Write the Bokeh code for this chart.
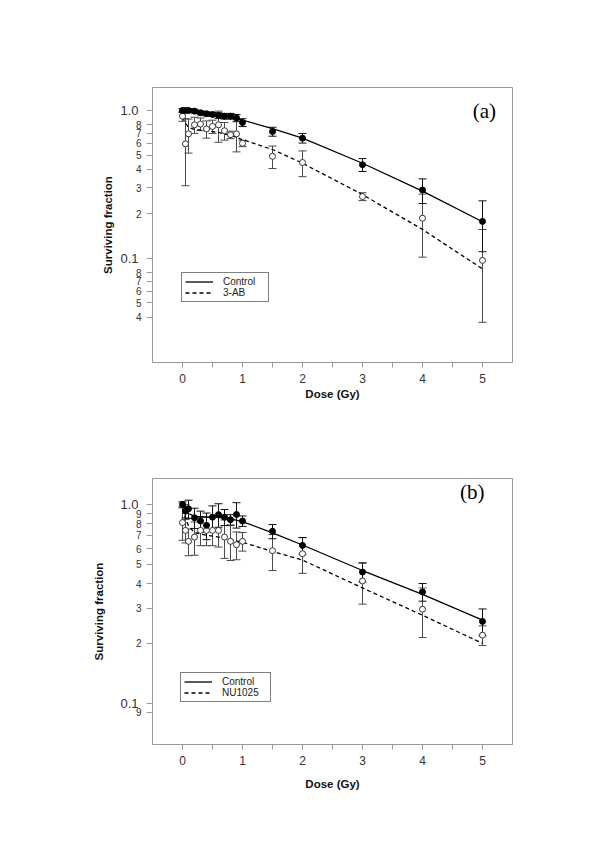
from bokeh.plotting import figure
from bokeh.models import (Range1d, FixedTicker, Label, Legend, LegendItem, Whisker, LogAxis,
                          ColumnDataSource, CustomJSTickFormatter, TeeHead)
from bokeh.layouts import column
from bokeh.embed import file_html
from bokeh.resources import INLINE

# ---------------- data ----------------
doses = [0, 0.05, 0.1, 0.2, 0.3, 0.4, 0.5, 0.6, 0.7, 0.8, 0.9, 1.0, 1.5, 2, 3, 4, 5]

# panel (a)
control_a = [1.0, 1.0, 1.0, 0.99, 0.965, 0.95, 0.94, 0.925, 0.915, 0.915, 0.89, 0.83, 0.72, 0.65, 0.43, 0.29, 0.178]
control_a_err = [0.03, 0.03, 0.03, 0.03, 0.03, 0.03, 0.03, 0.04, 0.04, 0.04, 0.05, 0.05, 0.05, 0.048, 0.043, 0.055, 0.067]
ab_a = [0.915, 0.595, 0.695, 0.80, 0.81, 0.75, 0.78, 0.80, 0.73, 0.685, 0.695, 0.60, 0.49, 0.445, 0.262, 0.187, 0.097]
ab_a_err = [0.07, 0.285, 0.18, 0.1, 0.08, 0.1, 0.08, 0.19, 0.1, 0.04, 0.17, 0.03, 0.085, 0.088, 0.016, 0.085, 0.06]

fit_doses = [0, 0.05, 0.1, 0.2, 0.4, 0.6, 0.8, 1.0, 1.5, 2, 3, 4, 5]
control_a_fit = [1.0, 0.995, 0.99, 0.975, 0.95, 0.925, 0.895, 0.86, 0.755, 0.65, 0.44, 0.285, 0.177]
ab_a_fit = [0.9, 0.82, 0.77, 0.745, 0.73, 0.71, 0.68, 0.635, 0.545, 0.44, 0.27, 0.157, 0.085]

# panel (b)
control_b = [1.0, 0.925, 0.95, 0.857, 0.825, 0.785, 0.863, 0.888, 0.863, 0.838, 0.89, 0.825, 0.732, 0.622, 0.457, 0.363, 0.258]
control_b_err = [0.03, 0.07, 0.1, 0.1, 0.1, 0.12, 0.12, 0.12, 0.08, 0.05, 0.13, 0.05, 0.06, 0.06, 0.05, 0.037, 0.04]
nu_b = [0.81, 0.74, 0.652, 0.685, 0.74, 0.74, 0.74, 0.74, 0.685, 0.652, 0.627, 0.652, 0.585, 0.565, 0.412, 0.297, 0.22]
nu_b_err = [0.15, 0.1, 0.1, 0.13, 0.12, 0.12, 0.12, 0.13, 0.15, 0.13, 0.1, 0.07, 0.12, 0.115, 0.097, 0.083, 0.025]

control_b_fit = [1.0, 0.94, 0.9, 0.87, 0.865, 0.86, 0.845, 0.82, 0.72, 0.625, 0.465, 0.353, 0.262]
nu_b_fit = [0.95, 0.85, 0.78, 0.72, 0.70, 0.685, 0.665, 0.645, 0.58, 0.525, 0.38, 0.277, 0.20]

x_ticks = [0, 1, 2, 3, 4, 5]
x_minor = [0.5, 1.5, 2.5, 3.5, 4.5]

ticks_a = [1.0, 0.8, 0.7, 0.6, 0.5, 0.4, 0.3, 0.2, 0.1, 0.08, 0.07, 0.06, 0.05, 0.04]
tick_labels_a = ["1.0", "8", "7", "6", "5", "4", "3", "2", "0.1", "8", "7", "6", "5", "4"]
ticks_b = [1.0, 0.9, 0.8, 0.7, 0.6, 0.5, 0.4, 0.3, 0.2, 0.1, 0.09]
tick_labels_b = ["1.0", "9", "8", "7", "6", "5", "4", "3", "2", "0.1", "9"]

FONT = "Liberation Sans"
GRAY = "#9a9a9a"

LOOKUP = ("const i = vals.findIndex(v => Math.abs(v - tick) < 1e-9 * Math.max(1, v));"
          " return i < 0 ? '' : labs[i];")


def make_panel(width, height, border, y_lo, y_hi, ticks, labels, ctrl, ctrl_err, trt, trt_err,
               ctrl_fit, trt_fit, trt_name, tag, tag_pos, legend_pos, ylab_standoff, legend_width,
               xlab_standoff):
    p = figure(width=width, height=height, x_range=Range1d(-0.5, 5.5),
               y_range=Range1d(y_lo, y_hi), y_axis_type="log",
               output_backend="svg", toolbar_location=None,
               min_border_left=border[0], min_border_right=border[1],
               min_border_top=border[2], min_border_bottom=border[3])
    p.grid.visible = False
    p.outline_line_color = GRAY
    p.background_fill_color = "white"
    p.border_fill_color = "white"

    # x axis
    xa = p.xaxis[0]
    xa.ticker = FixedTicker(ticks=x_ticks, minor_ticks=x_minor)
    xa.axis_line_color = GRAY
    xa.major_tick_line_color = GRAY
    xa.minor_tick_line_color = GRAY
    xa.major_tick_out = 5
    xa.major_tick_in = 0
    xa.minor_tick_out = 5
    xa.minor_tick_in = 0
    xa.major_label_text_font = FONT
    xa.major_label_text_font_size = "12px"
    xa.major_label_text_color = "#333333"
    xa.major_label_standoff = 6
    xa.axis_label = "Dose (Gy)"
    xa.axis_label_text_font = FONT
    xa.axis_label_text_font_style = "bold"
    xa.axis_label_text_font_size = "11.5px"
    xa.axis_label_text_color = "#111111"
    xa.axis_label_standoff = xlab_standoff

    # inner y axis: tick marks + small digit labels
    small_vals = [v for v, t in zip(ticks, labels) if "." not in t]
    small_labs = [t for t in labels if "." not in t]
    big_vals = [v for v, t in zip(ticks, labels) if "." in t]
    big_labs = [t for t in labels if "." in t]

    ya = p.yaxis[0]
    ya.ticker = FixedTicker(ticks=ticks, minor_ticks=[])
    ya.formatter = CustomJSTickFormatter(args=dict(vals=small_vals, labs=small_labs), code=LOOKUP)
    ya.axis_line_color = GRAY
    ya.major_tick_line_color = GRAY
    ya.major_tick_out = 6
    ya.major_tick_in = 0
    ya.minor_tick_line_color = None
    ya.major_label_standoff = 5
    ya.major_label_text_font = FONT
    ya.major_label_text_font_size = "10px"
    ya.major_label_text_color = "#333333"

    # outer y axis: decade labels (larger) + axis title
    yb = LogAxis(ticker=FixedTicker(ticks=big_vals, minor_ticks=[]),
                 formatter=CustomJSTickFormatter(args=dict(vals=big_vals, labs=big_labs), code=LOOKUP))
    yb.axis_line_color = None
    yb.major_tick_line_color = None
    yb.minor_tick_line_color = None
    yb.major_tick_out = 0
    yb.major_tick_in = 0
    yb.minor_tick_out = 0
    yb.minor_tick_in = 0
    yb.major_label_standoff = -6
    yb.major_label_text_font = FONT
    yb.major_label_text_font_size = "13px"
    yb.major_label_text_color = "#333333"
    yb.axis_label = "Surviving fraction"
    yb.axis_label_text_font = FONT
    yb.axis_label_text_font_style = "bold"
    yb.axis_label_text_font_size = "11.5px"
    yb.axis_label_text_color = "#111111"
    yb.axis_label_standoff = ylab_standoff
    p.add_layout(yb, "left")

    # error bars
    src_c = ColumnDataSource(dict(x=doses, y=ctrl,
                                  lo=[a - b for a, b in zip(ctrl, ctrl_err)],
                                  hi=[a + b for a, b in zip(ctrl, ctrl_err)]))
    src_t = ColumnDataSource(dict(x=doses, y=trt,
                                  lo=[a - b for a, b in zip(trt, trt_err)],
                                  hi=[a + b for a, b in zip(trt, trt_err)]))
    for src, col in ((src_t, "#4a4a4a"), (src_c, "#111111")):
        w = Whisker(source=src, base="x", upper="hi", lower="lo", dimension="height",
                    line_color=col, line_width=1,
                    upper_head=TeeHead(size=8, line_color=col, line_width=1),
                    lower_head=TeeHead(size=8, line_color=col, line_width=1))
        p.add_layout(w)

    # fitted curves
    l_c = p.line(fit_doses, ctrl_fit, line_color="black", line_width=1.3)
    l_t = p.line(fit_doses, trt_fit, line_color="black", line_width=1.3, line_dash="4 3")

    # points
    p.scatter("x", "y", source=src_t, size=6, marker="circle", fill_color="white",
              line_color="#333333", line_width=1)
    p.scatter("x", "y", source=src_c, size=6, marker="circle", fill_color="black",
              line_color="black")

    legend = Legend(items=[LegendItem(label="Control", renderers=[l_c]),
                           LegendItem(label=trt_name, renderers=[l_t])],
                    location=legend_pos, orientation="vertical")
    legend.border_line_color = "black"
    legend.border_line_width = 1
    legend.background_fill_color = "white"
    legend.background_fill_alpha = 1
    legend.label_text_font = FONT
    legend.label_text_font_size = "10px"
    legend.label_text_color = "#222222"
    legend.glyph_width = 28
    legend.glyph_height = 11
    legend.label_height = 11
    legend.label_standoff = 10
    legend.label_width = legend_width
    legend.padding = 3
    legend.spacing = 0
    legend.margin = 0
    p.add_layout(legend)

    p.add_layout(Label(x=tag_pos[0], y=tag_pos[1], text=tag, text_align="center",
                       text_baseline="middle", text_font="Liberation Serif",
                       text_font_size="21px", text_color="black"))
    return p


pa = make_panel(592, 418, (152, 80, 87, 56), 0.0198, 1.43, ticks_a, tick_labels_a,
                control_a, control_a_err, ab_a, ab_a_err, control_a_fit, ab_a_fit,
                "3-AB", "(a)", (5.03, 0.985), (29, 60), 3, 42, 2)
pb = make_panel(592, 420, (152, 63, 60, 94), 0.062, 1.35, ticks_b, tick_labels_b,
                control_b, control_b_err, nu_b, nu_b_err, control_b_fit, nu_b_fit,
                "NU1025", "(b)", (4.83, 1.15), (28, 42), 12, 45, 10)

layout = column(pa, pb, spacing=0)
open("out.html", "w").write(file_html(layout, INLINE))
